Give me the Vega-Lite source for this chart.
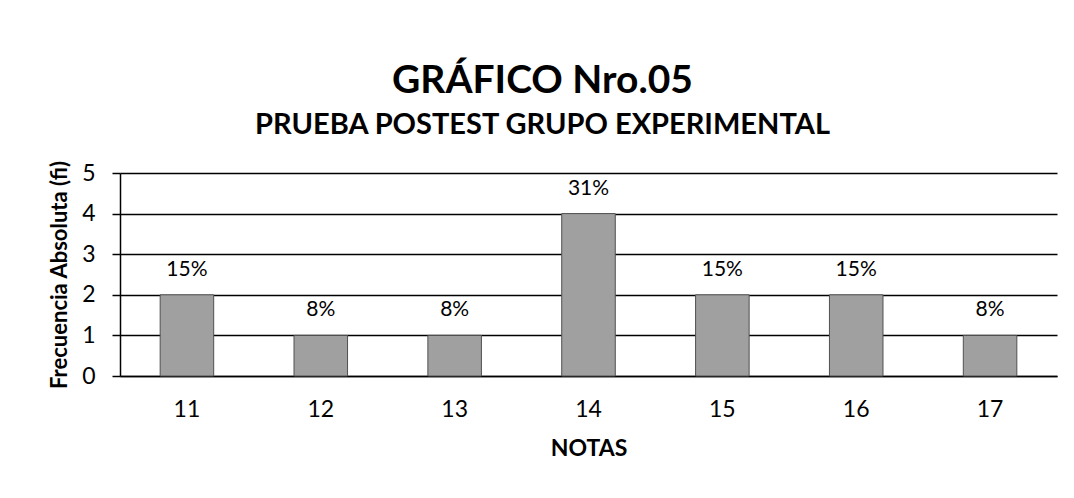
{
  "$schema": "https://vega.github.io/schema/vega-lite/v6.json",
  "width": 937,
  "height": 203,
  "autosize": {"type": "none"},
  "padding": {"left": 120, "top": 173, "right": 17, "bottom": 122},
  "background": "white",
  "title": {
    "text": "GRÁFICO Nro.05",
    "subtitle": "PRUEBA POSTEST GRUPO EXPERIMENTAL",
    "font": "Lato",
    "subtitleFont": "Lato",
    "fontSize": 39,
    "subtitleFontSize": 29,
    "fontWeight": "bold",
    "subtitleFontWeight": "bold",
    "color": "black",
    "subtitleColor": "black",
    "anchor": "middle",
    "frame": "group",
    "dx": -46,
    "offset": 20,
    "subtitlePadding": 10
  },
  "data": {
    "values": [
      {"nota": "11", "fi": 2, "pct": "15%"},
      {"nota": "12", "fi": 1, "pct": "8%"},
      {"nota": "13", "fi": 1, "pct": "8%"},
      {"nota": "14", "fi": 4, "pct": "31%"},
      {"nota": "15", "fi": 2, "pct": "15%"},
      {"nota": "16", "fi": 2, "pct": "15%"},
      {"nota": "17", "fi": 1, "pct": "8%"}
    ]
  },
  "encoding": {
    "x": {
      "field": "nota",
      "type": "ordinal",
      "sort": null,
      "scale": {"paddingInner": 0.6, "paddingOuter": 0.3},
      "axis": {
        "title": "NOTAS",
        "titleFont": "Lato",
        "titleFontSize": 23,
        "titleFontWeight": "bold",
        "titleColor": "black",
        "titlePadding": 16,
        "labelFont": "Lato",
        "labelFontSize": 23,
        "labelColor": "black",
        "labelAngle": 0,
        "labelPadding": 22,
        "ticks": false,
        "domain": true,
        "domainColor": "black",
        "domainWidth": 1.5,
        "grid": false
      }
    },
    "y": {
      "field": "fi",
      "type": "quantitative",
      "scale": {"domain": [0, 5], "nice": false},
      "axis": {
        "title": "Frecuencia Absoluta (fi)",
        "titleFont": "Lato",
        "titleFontSize": 22,
        "titleFontWeight": "bold",
        "titleColor": "black",
        "titlePadding": 10,
        "labelFont": "Lato",
        "labelFontSize": 23,
        "labelColor": "black",
        "labelPadding": 17,
        "labelOverlap": false,
        "values": [0, 1, 2, 3, 4, 5],
        "ticks": true,
        "tickSize": 8,
        "tickColor": "black",
        "tickWidth": 1.5,
        "domain": true,
        "domainColor": "black",
        "domainWidth": 1.5,
        "grid": true,
        "gridColor": "black",
        "gridWidth": 1.5
      }
    }
  },
  "layer": [
    {
      "mark": {"type": "bar", "color": "#a0a0a0", "stroke": "#505050", "strokeWidth": 1}
    },
    {
      "mark": {"type": "text", "baseline": "alphabetic", "dy": -19, "font": "Lato", "fontSize": 21, "color": "black"},
      "encoding": {"text": {"field": "pct"}}
    }
  ],
  "config": {"view": {"stroke": null}}
}
